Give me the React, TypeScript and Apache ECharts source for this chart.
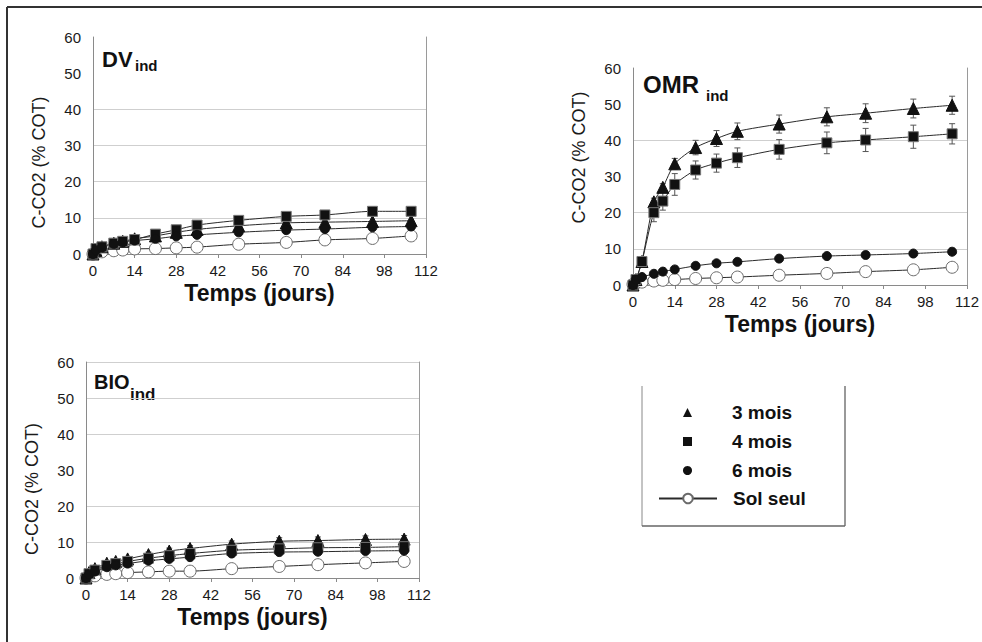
import React, { useEffect, useRef } from "react";
import * as echarts from "echarts";

// ---- Data (days, % COT) ----
const DAYS = [0, 1, 3, 7, 10, 14, 21, 28, 35, 49, 65, 78, 94, 107];
const X_TICKS = [0, 14, 28, 42, 56, 70, 84, 98, 112];
const Y_TICKS = [0, 10, 20, 30, 40, 50, 60];

const DV_3 = [0, 1, 2, 3, 3.5, 4.2, 5, 6, 6.8, 7.8, 8.6, 8.8, 9, 9.2];
const DV_4 = [0, 1.5, 2, 3, 3.5, 4, 5.5, 6.7, 8, 9.3, 10.4, 10.8, 11.8, 11.8];
const DV_6 = [0, 1, 1.8, 2.8, 3.2, 3.7, 4.2, 4.9, 5.3, 6, 6.6, 6.9, 7.4, 7.6];
const DV_SOL = [0, 0.3, 0.6, 0.9, 1.1, 1.4, 1.5, 1.7, 1.9, 2.7, 3.2, 3.9, 4.3, 5];
const DV_4_ERR = [0, 0, 0.3, 0.5, 0.5, 0.6, 0.8, 0.8, 0.9, 1, 1, 1, 1.2, 1.2];

const OMR_3 = [0, 1.5, 6.5, 23, 27, 33.5, 38, 40.5, 42.5, 44.5, 46.5, 47.5, 48.8, 49.7];
const OMR_4 = [0, 1.5, 6.5, 20, 23.2, 27.8, 31.8, 33.7, 35.2, 37.5, 39.3, 40.1, 41, 41.8];
const OMR_6 = [0, 1.5, 2.2, 3.1, 3.7, 4.3, 5.3, 6, 6.4, 7.3, 8, 8.3, 8.7, 9.2];
const OMR_SOL = [0.2, 0.5, 0.8, 1.1, 1.3, 1.5, 1.8, 2, 2.2, 2.7, 3.2, 3.7, 4.2, 4.9];
const OMR_3_ERR = [0, 0, 0.5, 1, 1, 1.5, 2, 2.2, 2.3, 2.5, 2.5, 2.6, 2.6, 2.5];
const OMR_4_ERR = [0, 0, 0.5, 2.5, 2.5, 3, 2.5, 2.5, 2.7, 2.7, 3, 3.2, 3.2, 2.8];

const BIO_3 = [0, 1.5, 2.6, 4.1, 4.6, 5.3, 6.5, 7.5, 8.2, 9.4, 10.2, 10.4, 10.7, 10.8];
const BIO_4 = [0, 1.2, 2.2, 3.5, 4, 4.6, 5.5, 6.2, 6.8, 7.7, 8.1, 8.4, 8.5, 8.7];
const BIO_6 = [0, 1, 1.8, 3, 3.5, 4, 4.8, 5.3, 5.8, 6.8, 7.2, 7.3, 7.5, 7.6];
const BIO_SOL = [0, 0.3, 0.6, 1, 1.2, 1.5, 1.7, 1.9, 1.9, 2.6, 3.2, 3.7, 4.2, 4.6];
const BIO_3_ERR = [0, 0, 0.3, 0.5, 0.5, 0.6, 0.7, 0.8, 0.8, 0.9, 1, 1, 1, 1];

const SERIES_NAMES = ["3 mois", "4 mois", "6 mois", "Sol seul"];
const PANEL_TITLES = ["DV", "OMR", "BIO"];
const SUBSCRIPT = "ind";
const X_NAME = "Temps (jours)";
const Y_NAME = "C-CO2 (% COT)";

const FONT = "'Liberation Sans', Arial, Helvetica, sans-serif";

const pairs = (vals: number[]) => DAYS.map((d, i) => [d, vals[i]]);
const errPairs = (vals: number[], err: number[]) =>
  DAYS.map((d, i) => [d, vals[i] - err[i], vals[i] + err[i]]).filter((_, i) => err[i] > 0);

export default function App() {
  const ref = useRef<HTMLDivElement>(null);

  useEffect(() => {
    if (!ref.current) return;
    const chart = echarts.init(ref.current, undefined, { renderer: "svg" });

    const grids = [
      { left: 93, top: 37, width: 333, height: 217 },
      { left: 633, top: 68, width: 335, height: 217 },
      { left: 86, top: 362, width: 333, height: 216 },
    ];
    const gridVisible = [
      [false, true, true, true, true, false, false],
      [false, true, true, false, true, false, false],
      [false, true, true, false, true, true, true],
    ];
    const yNamePad = [
      [0, 34, 0, 0],
      [0, 0, 0, 38],
      [0, 38, 0, 0],
    ];
    const splitColors = (vis: boolean[]) => vis.map((v) => (v ? "#cfcfcf" : "rgba(0,0,0,0)"));

    const xAxes = grids.map((_, i) => ({
      type: "value",
      gridIndex: i,
      min: X_TICKS[0],
      max: X_TICKS[X_TICKS.length - 1],
      interval: 14,
      axisLine: { show: true, lineStyle: { color: "#8a8a8a", width: 1 } },
      axisTick: { show: true, length: 4, lineStyle: { color: "#8a8a8a" } },
      splitLine: { show: false },
      axisLabel: { fontSize: 15, color: "#1a1a1a", fontFamily: FONT, margin: 9 },
      name: X_NAME,
      nameLocation: "middle",
      nameGap: 27,
      nameTextStyle: { fontSize: 23, fontWeight: "bold", color: "#111", fontFamily: FONT },
    }));

    const yLeft = grids.map((_, i) => ({
      type: "value",
      gridIndex: i,
      min: Y_TICKS[0],
      max: Y_TICKS[Y_TICKS.length - 1],
      interval: 10,
      axisLine: { show: true, lineStyle: { color: "#8a8a8a", width: 1 } },
      axisTick: { show: false },
      splitLine: { show: true, lineStyle: { color: splitColors(gridVisible[i]), width: 1 } },
      axisLabel: { fontSize: 15, color: "#1a1a1a", fontFamily: FONT, margin: 12 },
      name: Y_NAME,
      nameLocation: "middle",
      nameRotate: 90,
      nameGap: 45,
      nameTextStyle: { fontSize: 18, color: "#1a1a1a", fontFamily: FONT, padding: yNamePad[i] },
    }));
    const yRight = grids.map((_, i) => ({
      type: "value",
      gridIndex: i,
      position: "right",
      min: 0,
      max: 60,
      interval: 10,
      axisLine: { show: true, onZero: false, lineStyle: { color: "#9a9a9a", width: 1 } },
      axisTick: { show: false },
      axisLabel: { show: false },
      splitLine: { show: false },
    }));

    const panels = [
      { s: [DV_3, DV_4, DV_6, DV_SOL], err: [null, DV_4_ERR] as (number[] | null)[] },
      { s: [OMR_3, OMR_4, OMR_6, OMR_SOL], err: [OMR_3_ERR, OMR_4_ERR] as (number[] | null)[] },
      { s: [BIO_3, BIO_4, BIO_6, BIO_SOL], err: [BIO_3_ERR, null] as (number[] | null)[] },
    ];

    const symbolDefs = [
      { symbol: "triangle", size: 12, color: "#111", border: "#111" },
      { symbol: "rect", size: 10, color: "#111", border: "#777" },
      { symbol: "circle", size: 9, color: "#111", border: "#111" },
      { symbol: "circle", size: 12, color: "#ffffff", border: "#6a6a6a" },
    ];

    const series: any[] = [];
    panels.forEach((p, pi) => {
      p.err.forEach((e, k) => {
        if (!e) return;
        series.push({
          type: "custom",
          name: "err-" + pi + "-" + k,
          xAxisIndex: pi,
          yAxisIndex: pi,
          z: 1,
          silent: true,
          data: errPairs(p.s[k], e),
          encode: { x: 0, y: [1, 2] },
          renderItem: (_params: any, api: any) => {
            const x = api.value(0);
            const lo = api.coord([x, api.value(1)]);
            const hi = api.coord([x, api.value(2)]);
            const w = 3;
            const st = { stroke: "#555", lineWidth: 1 };
            return {
              type: "group",
              children: [
                { type: "line", shape: { x1: hi[0], y1: hi[1], x2: lo[0], y2: lo[1] }, style: st },
                { type: "line", shape: { x1: hi[0] - w, y1: hi[1], x2: hi[0] + w, y2: hi[1] }, style: st },
                { type: "line", shape: { x1: lo[0] - w, y1: lo[1], x2: lo[0] + w, y2: lo[1] }, style: st },
              ],
            };
          },
        });
      });
      p.s.forEach((vals, k) => {
        const sd = symbolDefs[k];
        series.push({
          type: "line",
          name: SERIES_NAMES[k],
          xAxisIndex: pi,
          yAxisIndex: pi,
          z: 3 + (k === 3 ? 0 : 1),
          data: pairs(vals),
          smooth: 0.25,
          symbol: sd.symbol,
          symbolSize: sd.size,
          showAllSymbol: true,
          lineStyle: { color: "#2a2a2a", width: 1 },
          itemStyle: { color: sd.color, borderColor: sd.border, borderWidth: 1, opacity: 1 },
          emphasis: { disabled: true },
        });
      });
    });

    const titlePos = [
      { x: 102, y: 48, size: 22, sx: 135, sy: 58, ssize: 15 },
      { x: 643, y: 72, size: 24, sx: 706, sy: 88, ssize: 15 },
      { x: 94, y: 372, size: 20, sx: 130, sy: 386, ssize: 17 },
    ];

    const graphic: any[] = [
      { type: "line", shape: { x1: 7, y1: 7, x2: 982, y2: 7 }, style: { stroke: "#333", lineWidth: 2 } },
      { type: "line", shape: { x1: 7, y1: 7, x2: 7, y2: 642 }, style: { stroke: "#333", lineWidth: 2 } },
      { type: "line", shape: { x1: 642, y1: 386, x2: 642, y2: 526 }, style: { stroke: "#888", lineWidth: 1 } },
      { type: "line", shape: { x1: 845, y1: 386, x2: 845, y2: 526 }, style: { stroke: "#777", lineWidth: 1.5 } },
      { type: "line", shape: { x1: 642, y1: 526, x2: 845, y2: 526 }, style: { stroke: "#666", lineWidth: 1.5 } },
    ];
    PANEL_TITLES.forEach((t, i) => {
      const tp = titlePos[i];
      graphic.push({
        type: "text",
        x: tp.x,
        y: tp.y,
        style: { text: t, fontSize: tp.size, fontWeight: "bold", fill: "#111", fontFamily: FONT, verticalAlign: "top" },
      });
      graphic.push({
        type: "text",
        x: tp.sx,
        y: tp.sy,
        style: { text: SUBSCRIPT, fontSize: tp.ssize, fontWeight: "bold", fill: "#111", fontFamily: FONT, verticalAlign: "top" },
      });
    });

    const legendText = { fontSize: 19, fontWeight: "bold", color: "#111", fontFamily: FONT };

    chart.setOption({
      animation: false,
      backgroundColor: "#ffffff",
      grid: grids,
      xAxis: xAxes,
      yAxis: [...yLeft, ...yRight],
      legend: [
        {
          orient: "vertical",
          left: 683,
          top: 403,
          padding: 0,
          itemWidth: 9,
          itemHeight: 9,
          itemGap: 10,
          selectedMode: false,
          itemStyle: { borderWidth: 0 },
          textStyle: { ...legendText, padding: [0, 0, 0, 35] },
          data: [
            { name: SERIES_NAMES[0], icon: "triangle" },
            { name: SERIES_NAMES[1], icon: "rect" },
            { name: SERIES_NAMES[2], icon: "circle" },
          ],
        },
        {
          orient: "vertical",
          left: 658,
          top: 489,
          padding: 0,
          itemWidth: 58,
          itemHeight: 12,
          selectedMode: false,
          textStyle: { ...legendText, padding: [0, 0, 0, 11] },
          data: [{ name: SERIES_NAMES[3] }],
        },
      ],
      graphic,
      series,
    });

    return () => chart.dispose();
  }, []);

  return (
    <div
      ref={ref}
      style={{ position: "fixed", left: 0, top: 0, width: 982, height: 642, background: "#fff" }}
    />
  );
}
